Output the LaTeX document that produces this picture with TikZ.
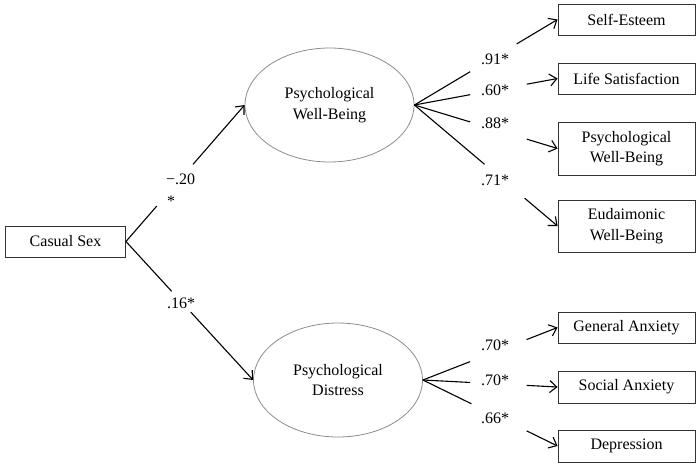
\documentclass[tikz,border=0pt]{standalone}
\usepackage{fontspec}
\setmainfont{Liberation Serif}
\usetikzlibrary{arrows.meta,calc,shapes.geometric}
\begin{document}
\begin{tikzpicture}[x=1pt,y=-1pt,
  every node/.style={font=\fontsize{16}{20.5}\selectfont, inner sep=0pt},
  box/.style={draw=black!80, line width=0.9pt, minimum width=137pt, align=center},
  latent/.style={ellipse, draw=black!45, line width=0.8pt, minimum width=169pt, minimum height=114pt, align=center},
  conn/.style={draw=black, line width=1.1pt},
  arr/.style={conn, -{Straight Barb[length=7pt,width=12pt,line width=1.1pt]}},
  lab/.style={anchor=center}]
\useasboundingbox (0,0) rectangle (700,464);
% exogenous
\node[box, minimum width=120pt, minimum height=31pt] (cs) at (65.5,241.5) {Casual Sex};
% latents
\node[latent] (pw) at (329.5,105) {Psychological\\Well-Being};
\node[latent] (pd) at (338,380) {Psychological\\Distress};
% indicators
\node[box, minimum height=31pt] (se) at (626.5,19.5) {Self-Esteem};
\node[box, minimum height=31pt] (ls) at (626.5,78.5) {Life Satisfaction};
\node[box, minimum height=53pt] (pwb) at (626.5,148.5) {Psychological\\Well-Being};
\node[box, minimum height=52pt] (eud) at (626.5,226) {Eudaimonic\\Well-Being};
\node[box, minimum height=31pt] (ga) at (626.5,327.5) {General Anxiety};
\node[box, minimum height=32pt] (sa) at (626.5,387) {Social Anxiety};
\node[box, minimum height=32pt] (dep) at (626.5,446) {Depression};
% labels
\node[anchor=base west] (l20) at (166,184.5) {−.20};
\node[anchor=base west] (l20s) at (167,206) {*};
\node[lab] (l16) at (181,303) {.16*};
\node[lab] (l91) at (495,59) {.91*};
\node[lab] (l60) at (495,90) {.60*};
\node[lab] (l88) at (495,123) {.88*};
\node[lab] (l71) at (495,180) {.71*};
\node[lab] (l70a) at (495,345) {.70*};
\node[lab] (l70b) at (495,380) {.70*};
\node[lab] (l66) at (495,418) {.66*};
% structural paths
\draw[conn] (cs.east) -- ($(cs.east)!0.26!(pw.west)$);
\draw[arr] ($(cs.east)!0.565!(pw.west)$) -- (pw.west);
\draw[conn] (cs.east) -- ($(cs.east)!0.36!(pd.west)$);
\draw[arr] ($(cs.east)!0.51!(pd.west)$) -- (pd.west);
% loadings well-being
\draw[conn] (pw.east) -- ($(pw.east)!0.39!(se.west)$);
\draw[arr] ($(pw.east)!0.715!(se.west)$) -- (se.west);
\draw[conn] (pw.east) -- ($(pw.east)!0.39!(ls.west)$);
\draw[arr] ($(pw.east)!0.785!(ls.west)$) -- (ls.west);
\draw[conn] (pw.east) -- ($(pw.east)!0.39!(pwb.west)$);
\draw[arr] ($(pw.east)!0.785!(pwb.west)$) -- (pwb.west);
\draw[conn] (pw.east) -- ($(pw.east)!0.49!(eud.west)$);
\draw[arr] ($(pw.east)!0.77!(eud.west)$) -- (eud.west);
% loadings distress
\draw[conn] (pd.east) -- ($(pd.east)!0.35!(ga.west)$);
\draw[arr] ($(pd.east)!0.77!(ga.west)$) -- (ga.west);
\draw[conn] (pd.east) -- ($(pd.east)!0.35!(sa.west)$);
\draw[arr] ($(pd.east)!0.77!(sa.west)$) -- (sa.west);
\draw[conn] (pd.east) -- ($(pd.east)!0.36!(dep.west)$);
\draw[arr] ($(pd.east)!0.77!(dep.west)$) -- (dep.west);
\end{tikzpicture}
\end{document}
